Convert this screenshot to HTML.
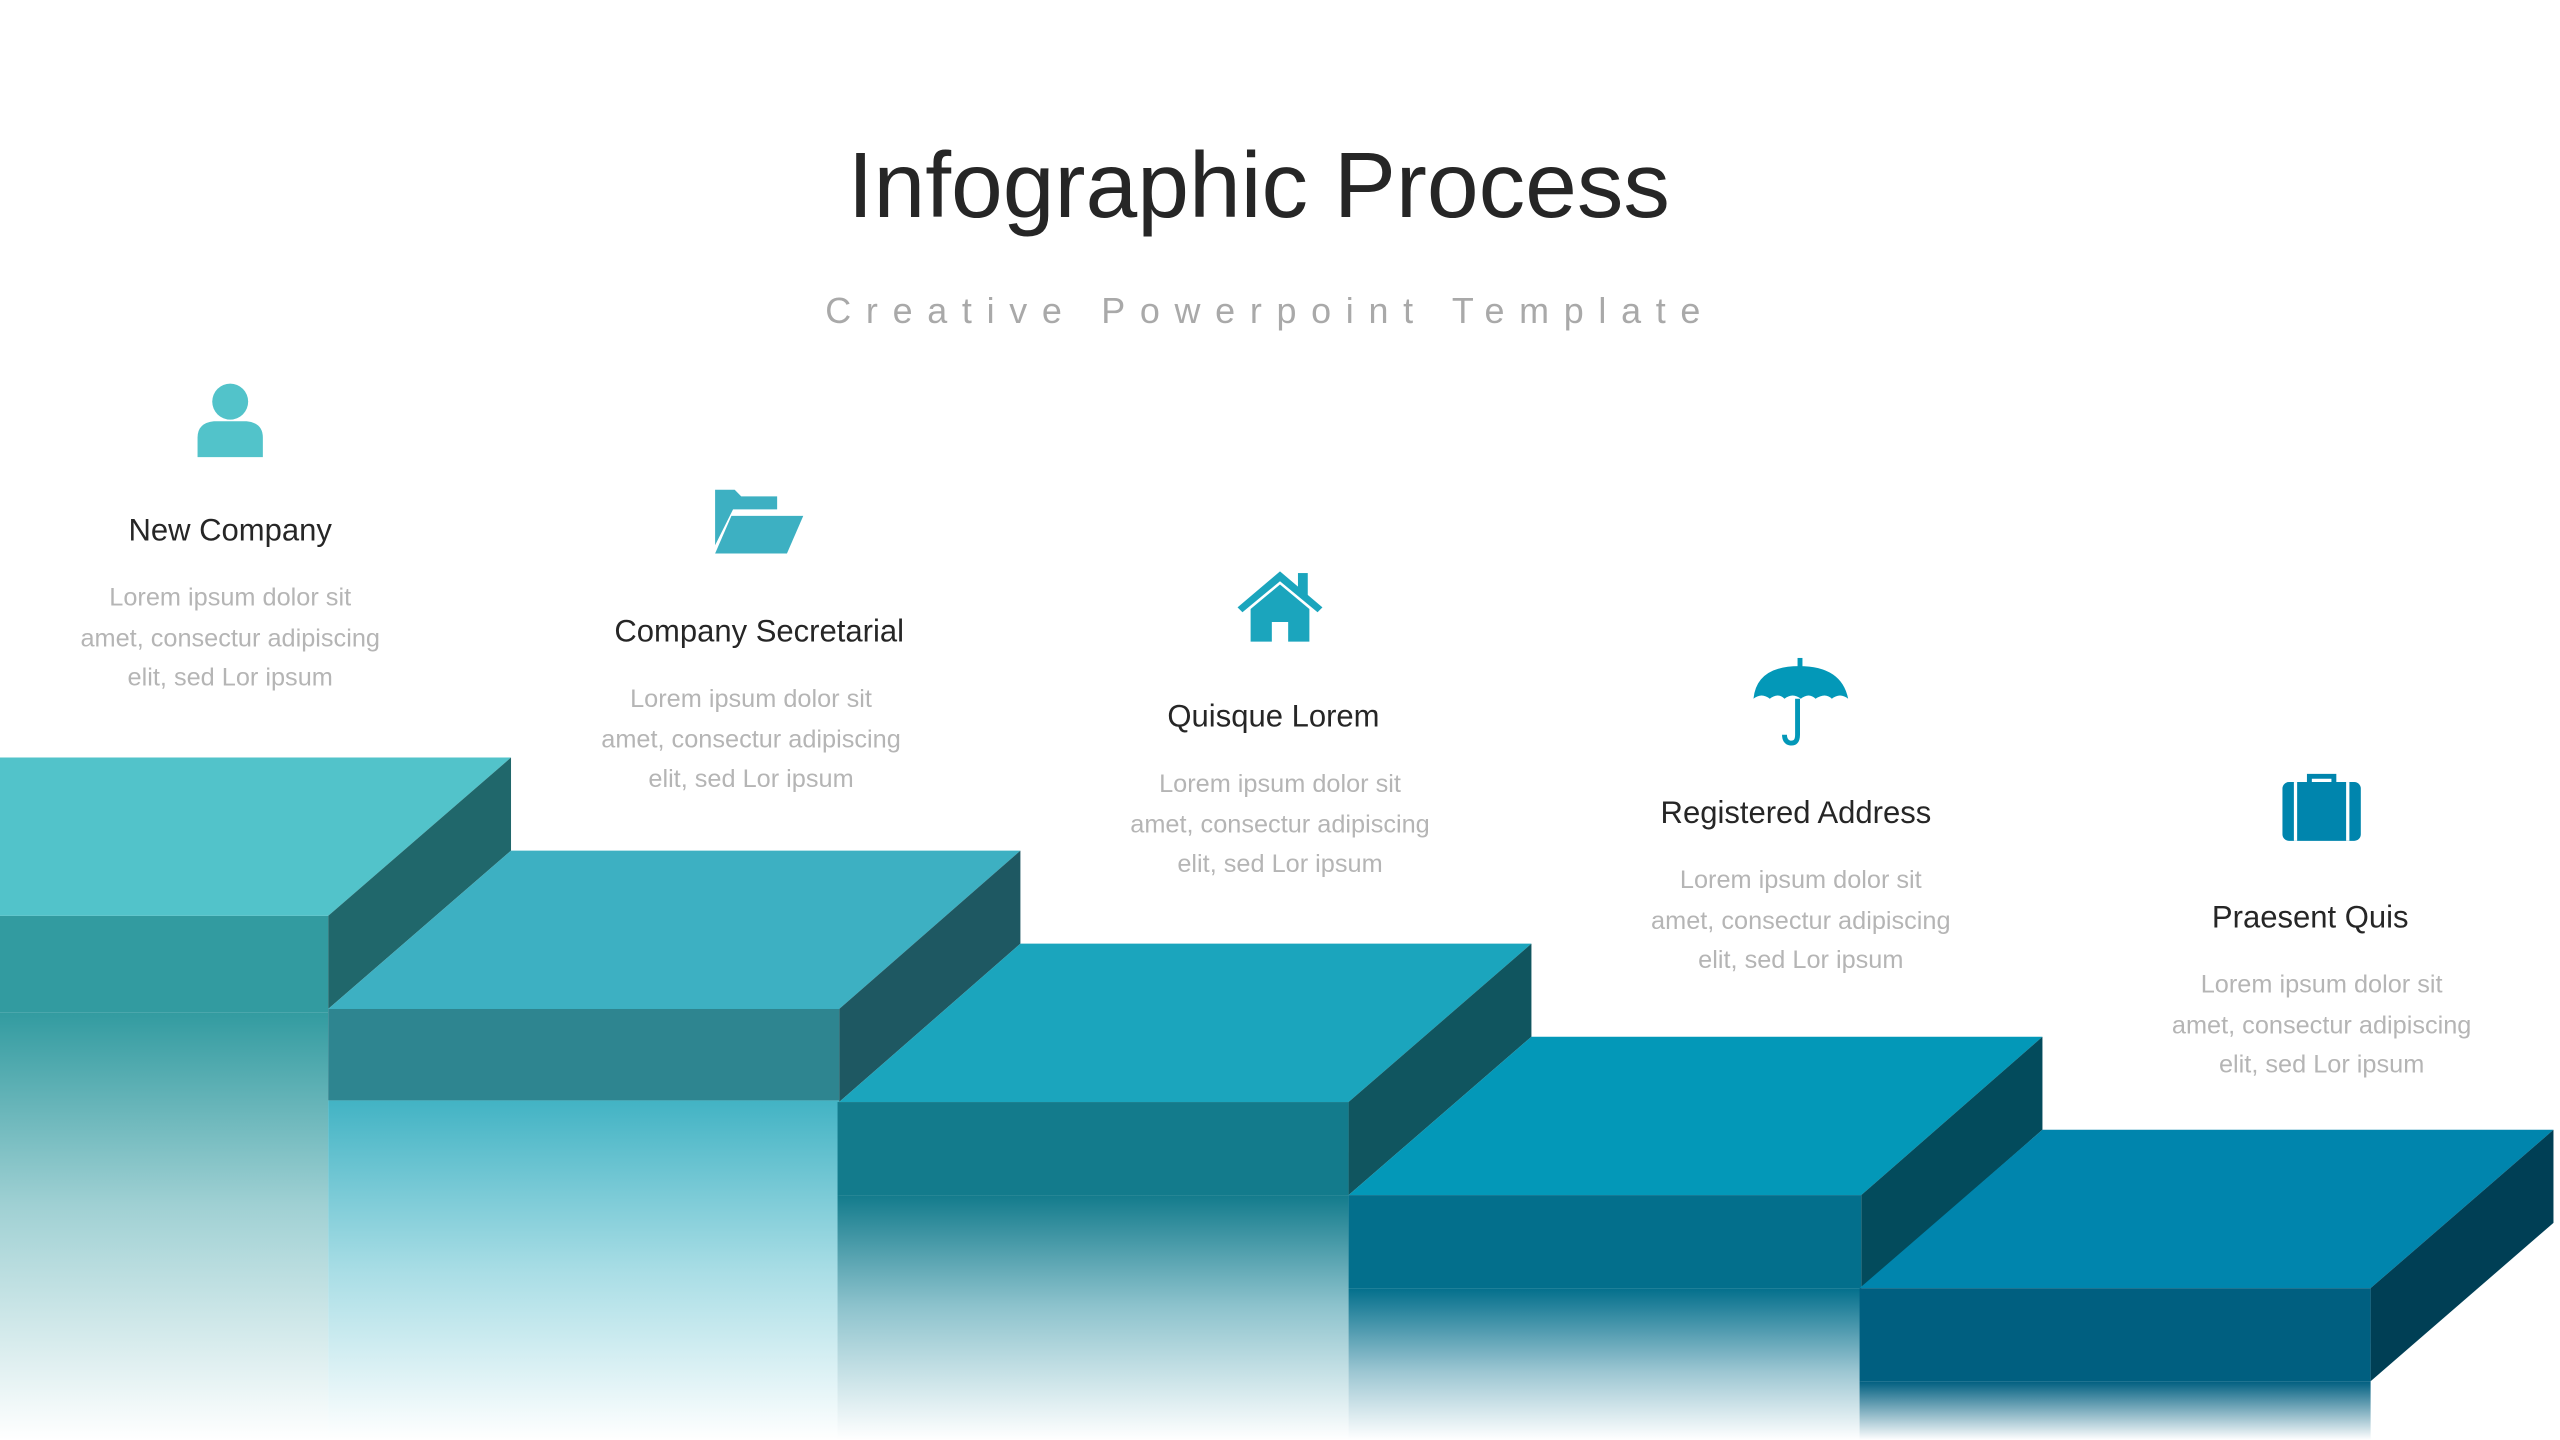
<!DOCTYPE html>
<html><head><meta charset="utf-8"><style>html,body{margin:0;padding:0;background:#fff;}svg{display:block}</style></head>
<body>
<svg width="2560" height="1440" viewBox="0 0 1568 882" xmlns="http://www.w3.org/2000/svg" font-family="'Liberation Sans', sans-serif">
<defs>
<linearGradient id="g0" x1="0" y1="0" x2="0" y2="1"><stop offset="0" stop-color="#329ba0"/><stop offset="0.45" stop-color="#9fd0d3"/><stop offset="1" stop-color="#ffffff"/></linearGradient>
<linearGradient id="g1" x1="0" y1="0" x2="0" y2="1"><stop offset="0" stop-color="#42b3c4"/><stop offset="0.5" stop-color="#a8dde5"/><stop offset="1" stop-color="#ffffff"/></linearGradient>
<linearGradient id="g2" x1="0" y1="0" x2="0" y2="1"><stop offset="0" stop-color="#137b8c"/><stop offset="0.45" stop-color="#8cc2cc"/><stop offset="1" stop-color="#ffffff"/></linearGradient>
<linearGradient id="g3" x1="0" y1="0" x2="0" y2="1"><stop offset="0" stop-color="#036f8c"/><stop offset="0.55" stop-color="#9cc6d2"/><stop offset="1" stop-color="#ffffff"/></linearGradient>
<linearGradient id="g4" x1="0" y1="0" x2="0" y2="1"><stop offset="0" stop-color="#005f80"/><stop offset="1" stop-color="#ffffff"/></linearGradient>
</defs>
<text x="771" y="133" font-size="57" fill="#262626" text-anchor="middle">Infographic Process</text>
<text x="778" y="198" font-size="22" fill="#a9a9a9" text-anchor="middle" letter-spacing="9">Creative Powerpoint Template</text>

<!-- reflections -->
<rect x="0" y="620" width="201" height="262" fill="url(#g0)"/>
<rect x="201" y="674" width="313" height="208" fill="url(#g1)"/>
<rect x="513" y="732" width="313" height="150" fill="url(#g2)"/>
<rect x="826" y="789" width="314" height="93" fill="url(#g3)"/>
<rect x="1139" y="846" width="313" height="36" fill="url(#g4)"/>

<!-- step 0 -->
<polygon points="0,464 313,464 201,561 0,561" fill="#52c3ca"/>
<polygon points="201,561 313,464 313,521 201,618" fill="#20676b"/>
<rect x="0" y="561" width="201" height="59" fill="#329ba0"/>
<!-- step 1 -->
<polygon points="313,521 625,521 514,618 201,618" fill="#3db0c2"/>
<polygon points="514,618 625,521 625,578 514,675" fill="#1e5862"/>
<rect x="201" y="618" width="313" height="56" fill="#2e8590"/>
<!-- step 2 -->
<polygon points="625,578 938,578 826,675 514,675" fill="#1ba5bd"/>
<polygon points="826,675 938,578 938,635 826,732" fill="#10555f"/>
<rect x="513" y="675" width="313" height="57" fill="#137b8c"/>
<!-- step 3 -->
<polygon points="938,635 1251,635 1140,732 826,732" fill="#0398b8"/>
<polygon points="1140,732 1251,635 1251,692 1140,789" fill="#034b5c"/>
<rect x="826" y="732" width="314" height="57" fill="#036f8c"/>
<!-- step 4 -->
<polygon points="1251,692 1564,692 1452,789 1139,789" fill="#0085ad"/>
<polygon points="1452,789 1564,692 1564,749 1452,846" fill="#003f55"/>
<rect x="1139" y="789" width="313" height="57" fill="#005f80"/>

<!-- icons -->
<g fill="#52c3ca"><circle cx="141" cy="246" r="11"/><path d="M121,280 v-12 q0,-9 10,-10 h20 q10,1 10,10 v12 z"/></g>
<g fill="#3db0c2"><path d="M438,300 h12 l4,4 h22 v8 h-27 l-11,22 z"/><path d="M448,316 h44 l-10,23 h-44 z"/></g>
<g fill="#1ba5bd"><path d="M758,372 l26,-22 26,22 -3,3 -23,-19 -23,19 z"/><rect x="795" y="351" width="6" height="14"/><path d="M766,373 l18,-15 18,15 v20 h-13 v-12 h-10 v12 h-13 z"/></g>
<g fill="#0398b8"><rect x="1101" y="403" width="3" height="6"/><path d="M1074,428 q2,-20 28,-20 q26,0 30,20 q-5,-4 -10,0 q-4,-4 -10,0 q-4,-4 -9,0 q-5,-4 -10,0 q-4,-4 -9,0 q-5,-4 -10,0 z"/><path d="M1101,428 v22 q0,6 -5,5 q-3,-1 -3,-5" fill="none" stroke="#0398b8" stroke-width="3"/></g>
<g fill="#0085ad"><path d="M1413,480 v-6 h18 v6 h-3 v-3 h-12 v3 z"/><rect x="1398" y="479" width="48" height="36" rx="4"/><rect x="1405" y="479" width="2" height="36" fill="#fff"/><rect x="1437" y="479" width="2" height="36" fill="#fff"/></g>

<!-- headings -->
<g font-size="19" fill="#262626" text-anchor="middle">
<text x="141" y="331">New Company</text>
<text x="465" y="393">Company Secretarial</text>
<text x="780" y="445">Quisque Lorem</text>
<text x="1100" y="504">Registered Address</text>
<text x="1415" y="568">Praesent Quis</text>
</g>
<g font-size="15.5" fill="#b5b5b5" text-anchor="middle">
<text x="141" y="371">Lorem ipsum dolor sit</text><text x="141" y="396">amet, consectur adipiscing</text><text x="141" y="420">elit, sed Lor ipsum</text>
<text x="460" y="433">Lorem ipsum dolor sit</text><text x="460" y="458">amet, consectur adipiscing</text><text x="460" y="482">elit, sed Lor ipsum</text>
<text x="784" y="485">Lorem ipsum dolor sit</text><text x="784" y="510">amet, consectur adipiscing</text><text x="784" y="534">elit, sed Lor ipsum</text>
<text x="1103" y="544">Lorem ipsum dolor sit</text><text x="1103" y="569">amet, consectur adipiscing</text><text x="1103" y="593">elit, sed Lor ipsum</text>
<text x="1422" y="608">Lorem ipsum dolor sit</text><text x="1422" y="633">amet, consectur adipiscing</text><text x="1422" y="657">elit, sed Lor ipsum</text>
</g>
</svg>
</body></html>
